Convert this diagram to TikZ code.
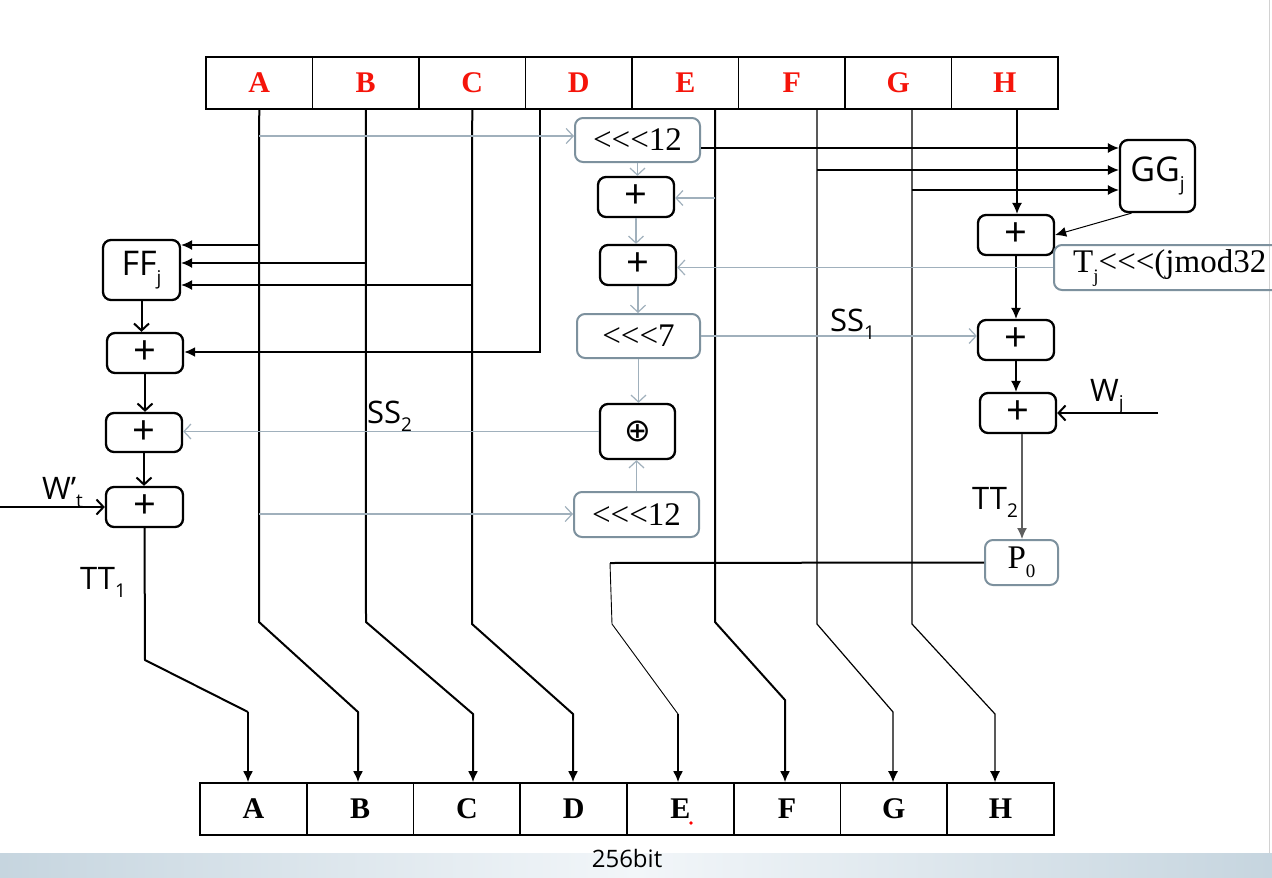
\documentclass[tikz,border=0pt]{standalone}
\usepackage{fontspec}
\setmainfont{Liberation Serif}
\setsansfont{Open Sans}
\newfontfamily\dejavu{DejaVu Sans}
\usetikzlibrary{arrows.meta}
\definecolor{slate}{RGB}{125,145,158}
\definecolor{gline}{RGB}{160,176,188}
\definecolor{regred}{RGB}{245,20,10}
\definecolor{bandc}{RGB}{198,213,223}
\definecolor{bandm}{RGB}{242,246,249}
\definecolor{ttgray}{RGB}{95,95,95}
\newcommand\sbx[1]{\raisebox{-0.28em}{\fontsize{19}{19}\selectfont #1}}
\newcommand\rotl{<\kern0pt<\kern0pt<}
\begin{document}
\begin{tikzpicture}[x=1pt,y=-1pt,
  reg/.style={draw, line width=1.6pt, minimum width=106.5pt, minimum height=52pt, inner sep=0pt, font=\bfseries\fontsize{30}{30}\selectfont},
  bbox/.style={draw, line width=2.3pt, rounded corners=8pt, inner sep=0pt, font=\sffamily\fontsize{34}{34}\selectfont},
  plus/.style={bbox, minimum width=76pt, minimum height=40pt, font=\sffamily\fontsize{40}{40}\selectfont},
  gbox/.style={draw=slate, line width=2pt, rounded corners=8pt, inner sep=0pt, font=\fontsize{33}{33}\selectfont},
  lab/.style={font=\sffamily\fontsize{31}{31}\selectfont, inner sep=0pt},
  wire/.style={line width=2pt},
  thinwire/.style={line width=1.2pt},
  gwire/.style={draw=gline, line width=1.4pt},
  fa/.style={-{Latex[length=11pt,width=10pt]}},
  oa/.style={-{Straight Barb[length=7pt,width=15pt,line width=2pt]}},
  ga/.style={-{Straight Barb[length=7pt,width=15pt,line width=1.2pt]}}]
\useasboundingbox (0,0) rectangle (1272,878);
\fill[white] (0,0) rectangle (1272,878);
\shade[left color=bandc, right color=bandc, middle color=bandm] (0,853) rectangle (1272,878);
\draw[gray!35, line width=1pt] (1269,0) -- (1269,853);

% registers
\foreach \n [count=\i from 0] in {A,B,C,D,E,F,G,H}
  \node[reg, text=regred] (t\n) at ({259.25+106.5*\i},83) {\n};
\foreach \n [count=\i from 0] in {A,B,C,D,E,F,G,H}
  \node[reg, minimum width=106.75pt] (b\n) at ({253.4+106.75*\i},809) {\n};
\fill[red] (691,823) circle (1.8pt);

% middle boxes
\node[gbox, minimum width=125pt, minimum height=44pt] (rotA) at (637.5,140) {\rotl12};
\node[plus] (p1) at (636,197) {+};
\node[plus] (p2) at (638,265) {+};
\node[gbox, minimum width=123pt, minimum height=44pt] (rot7) at (638.5,336) {\rotl7};
\node[bbox, minimum width=75pt, minimum height=55pt, font=\dejavu\fontsize{32}{32}\selectfont] (xor) at (637.5,431.5) {⊕};
\node[gbox, minimum width=125pt, minimum height=45pt] (rotB) at (636.5,514.5) {\rotl12};

% left boxes
\node[bbox, minimum width=77pt, minimum height=60pt] (ff) at (141.5,270) {FF\sbx{j}};
\node[plus] (l1) at (145,353) {+};
\node[plus, minimum height=39pt] (l2) at (144,432.5) {+};
\node[plus, minimum width=77pt] (l3) at (144.5,507) {+};

% right boxes
\node[bbox, minimum width=75pt, minimum height=72pt] (gg) at (1157.5,176) {GG\sbx{j}};
\node[plus] (r1) at (1016,235) {+};
\node[gbox, minimum width=240pt, minimum height=45pt, anchor=west] (tj) at (1053,267.5) {};
\node[font=\fontsize{33}{33}\selectfont, anchor=west, inner sep=0pt] (tjt) at (1073,268) {T\sbx{j}\rotl(jmod32};
\node[plus] (r2) at (1016,340) {+};
\node[plus] (r3) at (1018,413) {+};
\node[gbox, minimum width=73pt, minimum height=45pt] (p0) at (1021.5,562.5) {P\sbx{0}};

% coordinates
\coordinate (kA1) at (259,622); \coordinate (kA2) at (358,712);
\coordinate (kB1) at (366,622); \coordinate (kB2) at (473,714);
\coordinate (kC1) at (472,624); \coordinate (kC2) at (573,714);
\coordinate (dTop) at (540,109); \coordinate (dK) at (540,352);
\coordinate (eTop) at (715,109); \coordinate (kE1) at (715,622); \coordinate (kE2) at (785,700);
\coordinate (fTop) at (817,109); \coordinate (kF1) at (817,624); \coordinate (kF2) at (893,712);
\coordinate (gTop) at (912,109); \coordinate (kG1) at (912,624); \coordinate (kG2) at (995,714);
\coordinate (hTop) at (1017,109);
\coordinate (kP0) at (610,563); \coordinate (kP1) at (612,624); \coordinate (kP2) at (678,714);
\coordinate (kT1) at (145,660); \coordinate (kT2) at (248,712);

% main data paths
\draw[wire, fa] (tA.south) -- (kA1) -- (kA2) -- (kA2 |- bB.north);
\draw[wire, fa] (tB.south) -- (kB1) -- (kB2) -- (kB2 |- bC.north);
\draw[wire, fa] (tC.south) -- (kC1) -- (kC2) -- (kC2 |- bD.north);
\draw[wire, fa] (eTop) -- (kE1) -- (kE2) -- (kE2 |- bF.north);
\draw[thinwire, fa] (fTop) -- (kF1) -- (kF2) -- (kF2 |- bG.north);
\draw[thinwire, fa] (gTop) -- (kG1) -- (kG2) -- (kG2 |- bH.north);
\draw[thinwire, fa] (hTop) -- (hTop |- r1.north);
\draw[wire, fa] (dTop) -- (dK) -- (dK -| l1.east);
\draw[wire] (p0.west) -- (kP0);
\draw[line width=0.9pt] (kP0) -- (kP1) -- (kP2);
\draw[wire, fa] (kP2) -- (kP2 |- bE.north);
\draw[wire] (l3.south) -- (kT1) -- (kT2);
\draw[wire, fa] (kT2) -- (kT2 |- bA.north);

% FF inputs
\coordinate (aFF) at (259,245); \coordinate (bFF) at (366,263); \coordinate (cFF) at (472,285);
\draw[thinwire, fa] (aFF) -- (aFF -| ff.east);
\draw[thinwire, fa] (bFF) -- (bFF -| ff.east);
\draw[thinwire, fa] (cFF) -- (cFF -| ff.east);
\draw[wire, oa] (ff.south) -- (ff.south |- l1.north);
\draw[wire, oa] (l1.south) -- (l1.south |- l2.north);
\draw[wire, oa] (l2.south) -- (l2.south |- l3.north);
\coordinate (wIn) at (0,507);
\draw[wire, oa] (wIn) -- (l3.west);

% GG inputs
\coordinate (fGG) at (817,170); \coordinate (gGG) at (912,190);
\draw[thinwire, fa] ([yshift=-8pt]rotA.east) -- ([yshift=-8pt]rotA.east -| gg.west);
\draw[thinwire, fa] (fGG) -- (fGG -| gg.west);
\draw[thinwire, fa] (gGG) -- (gGG -| gg.west);
\draw[line width=1pt, fa] (gg.235) -- (r1.east);
\draw[thinwire, fa] (r1.south) -- (r1.south |- r2.north);
\draw[thinwire, fa] (r2.south) -- (r2.south |- r3.north);
\draw[line width=1.3pt, draw=ttgray, fa] ([xshift=4pt]r3.south) -- ([xshift=4pt]r3.south |- p0.north);
\coordinate (wjIn) at (1158,413);
\draw[wire, oa] (wjIn) -- (r3.east);

% gray paths
\coordinate (aR) at (259,136); \coordinate (eP) at (715,198); \coordinate (aB) at (259,514);
\draw[gwire, ga] (aR) -- (aR -| rotA.west);
\draw[gwire, ga] (rotA.south) -- (rotA.south |- p1.north);
\draw[gwire, ga] (eP) -- (eP -| p1.east);
\draw[gwire, ga] (p1.south) -- (p1.south |- p2.north);
\draw[gwire, ga] (tj.west) -- (tj.west -| p2.east);
\draw[gwire, ga] (p2.south) -- (p2.south |- rot7.north);
\draw[gwire, ga] (rot7.south) -- (rot7.south |- xor.north);
\draw[gwire, ga] (rotB.north) -- (rotB.north |- xor.south);
\draw[gwire, ga] (rot7.east) -- (rot7.east -| r2.west);
\draw[gwire, ga] (xor.west) -- (xor.west -| l2.east);
\draw[gwire, ga] (aB) -- (aB -| rotB.west);

% labels
\node[lab, anchor=base west] (ss1) at (830,331) {SS\sbx{1}};
\node[lab, anchor=base west] (ss2) at (367,423) {SS\sbx{2}};
\node[lab, anchor=base west] (tt1) at (80,589) {TT\sbx{1}};
\node[lab, anchor=base west] (tt2) at (972,509) {TT\sbx{2}};
\node[lab, anchor=base west] (wj) at (1090,401) {W\sbx{j}};
\node[lab, anchor=base west] (wt) at (42,499) {W’\sbx{t}};
\node[lab, font=\sffamily\fontsize{24}{24}\selectfont] (bits) at (627,858) {256bit};
\end{tikzpicture}
\end{document}
